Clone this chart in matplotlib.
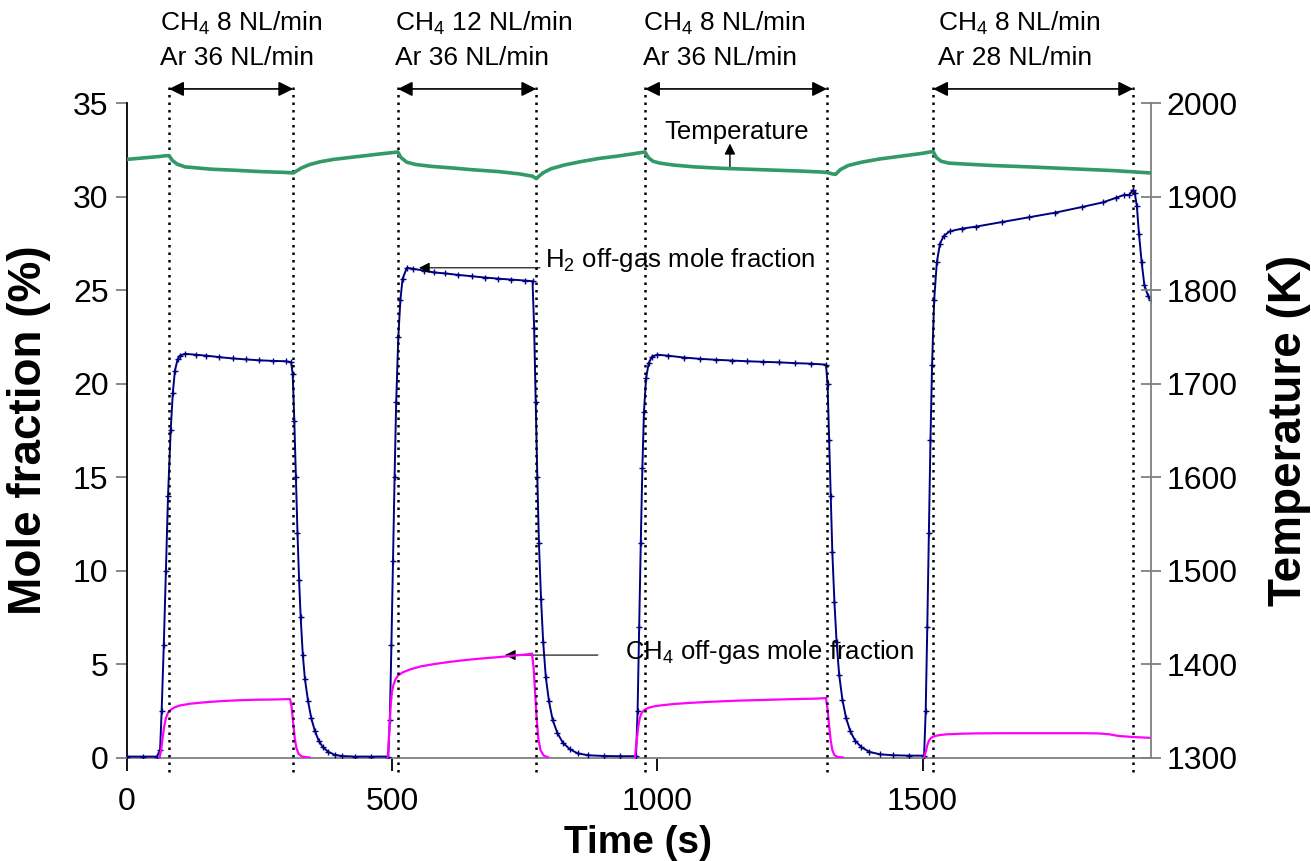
import matplotlib
matplotlib.use("Agg")
import matplotlib.pyplot as plt

plt.rcParams['font.family'] = ['Liberation Sans', 'DejaVu Sans']
plt.rcParams['mathtext.default'] = 'regular'

# ---------------- data ----------------
h2_t = [0, 30, 57, 63, 66, 70, 74, 78, 83, 87, 91, 96, 100, 110, 130, 150, 175, 200, 225, 250, 275, 300, 310,
        313, 316, 319, 322, 325, 328, 332, 336, 342, 348, 355, 362, 370, 380, 392, 405, 430, 460, 493,
        496, 499, 502, 505, 508, 512, 516, 520, 528, 540, 560, 580, 600, 625, 650, 675, 700, 725, 750, 765,
        768, 771, 774, 777, 781, 785, 790, 796, 803, 812, 822, 835, 850, 870, 900, 930, 960,
        963, 966, 969, 972, 975, 979, 984, 990, 1000, 1020, 1050, 1080, 1110, 1140, 1170, 1200, 1230, 1260, 1290, 1318,
        1321, 1324, 1327, 1330, 1334, 1338, 1343, 1349, 1356, 1364, 1373, 1385, 1400, 1420, 1445, 1475, 1503,
        1506, 1509, 1512, 1515, 1518, 1522, 1527, 1533, 1540, 1551, 1575, 1600, 1650, 1700, 1750, 1800, 1840, 1865,
        1880, 1890, 1896, 1900, 1904, 1908, 1913, 1918, 1925, 1930]
h2_v = [0.05, 0.05, 0.05, 0.4, 2.5, 6.0, 10.0, 14.0, 17.5, 19.5, 20.7, 21.3, 21.5, 21.6, 21.55, 21.5, 21.42, 21.35, 21.3, 21.25, 21.22, 21.2, 21.15,
        20.5, 18.0, 15.0, 12.0, 9.5, 7.5, 5.5, 4.2, 3.0, 2.1, 1.4, 0.9, 0.55, 0.3, 0.15, 0.08, 0.05, 0.05, 0.05,
        2.0, 6.0, 10.5, 15.0, 19.0, 22.5, 24.5, 25.6, 26.2, 26.15, 26.05, 25.95, 25.9, 25.82, 25.75, 25.68, 25.62, 25.57, 25.52, 25.48,
        23.0, 19.0, 15.0, 11.5, 8.5, 6.2, 4.3, 3.0, 2.0, 1.3, 0.8, 0.45, 0.22, 0.12, 0.08, 0.07, 0.07,
        2.5, 7.0, 11.5, 15.5, 18.5, 20.3, 21.1, 21.45, 21.55, 21.5, 21.4, 21.33, 21.28, 21.24, 21.2, 21.17, 21.14, 21.1, 21.07, 21.02,
        20.0, 17.0, 14.0, 11.0, 8.3, 6.2, 4.4, 3.1, 2.1, 1.4, 0.9, 0.55, 0.3, 0.17, 0.12, 0.1, 0.1,
        2.5, 7.0, 12.0, 17.0, 21.0, 24.5, 26.5, 27.5, 27.9, 28.15, 28.3, 28.4, 28.65, 28.9, 29.15, 29.45, 29.7, 29.95,
        30.1, 30.1, 30.35, 30.2, 29.5, 28.0, 26.5, 25.3, 24.7, 24.5]

ch4_t = [[62, 65, 68, 71, 74, 78, 83, 90, 100, 120, 150, 180, 210, 240, 270, 300, 308,
          311, 314, 317, 320, 324, 330, 338, 345],
         [492, 494, 496, 498, 500, 503, 507, 512, 520, 535, 555, 580, 610, 640, 670, 700, 730, 755, 764,
          767, 770, 773, 776, 780, 786, 795],
         [958, 961, 964, 967, 970, 974, 979, 986, 995, 1010, 1030, 1060, 1100, 1150, 1200, 1250, 1300, 1318,
          1321, 1324, 1327, 1330, 1334, 1340, 1350],
         [1503, 1506, 1509, 1512, 1516, 1521, 1530, 1545, 1570, 1600, 1650, 1700, 1750, 1800, 1830, 1850, 1870, 1895, 1930]]
ch4_v = [[0.0, 0.4, 1.1, 1.7, 2.1, 2.4, 2.55, 2.68, 2.78, 2.88, 2.96, 3.02, 3.06, 3.09, 3.1, 3.12, 3.13,
          2.7, 1.8, 1.0, 0.5, 0.2, 0.06, 0.02, 0.0],
         [0.0, 0.9, 2.0, 2.9, 3.5, 3.9, 4.2, 4.4, 4.55, 4.72, 4.88, 5.0, 5.12, 5.22, 5.3, 5.37, 5.45, 5.52, 5.56,
          4.8, 3.4, 2.0, 1.0, 0.4, 0.1, 0.0],
         [0.0, 0.8, 1.6, 2.1, 2.35, 2.5, 2.6, 2.68, 2.74, 2.8, 2.86, 2.92, 2.98, 3.04, 3.08, 3.12, 3.15, 3.18,
          2.6, 1.7, 0.9, 0.4, 0.12, 0.03, 0.0],
         [0.0, 0.3, 0.65, 0.9, 1.05, 1.13, 1.19, 1.24, 1.27, 1.29, 1.3, 1.3, 1.3, 1.3, 1.29, 1.25, 1.15, 1.1, 1.05]]

temp_t = [0, 20, 40, 60, 75, 80, 86, 95, 110, 130, 160, 200, 250, 300, 314, 320, 330, 345, 365, 390, 420, 450, 480, 505, 511,
          517, 528, 545, 575, 610, 650, 700, 740, 765, 772, 778, 786, 800, 825, 855, 890, 925, 955, 972, 977,
          983, 992, 1005, 1030, 1070, 1120, 1170, 1220, 1270, 1310, 1320, 1330, 1336, 1345, 1360, 1385, 1420, 1460, 1500, 1520,
          1526, 1535, 1550, 1580, 1630, 1700, 1780, 1860, 1930]
temp_v = [1940, 1941, 1942, 1943, 1944, 1944, 1939, 1935, 1932, 1931, 1929.5, 1928.5, 1927, 1926, 1925.5, 1927.5, 1931, 1934.5, 1937.5, 1940, 1942, 1944, 1946, 1947.5, 1948,
          1942, 1937, 1934.5, 1932.5, 1931, 1929, 1927, 1924.5, 1922, 1919.5, 1922.5, 1926, 1930, 1934, 1937.5, 1941, 1943.5, 1946, 1947.5, 1948,
          1942, 1938, 1936, 1934, 1932, 1930.5, 1929.5, 1928.5, 1927.5, 1926.5, 1926, 1924.5, 1924, 1929, 1933.5, 1937, 1940.5, 1943.5, 1946.5, 1948.5,
          1942, 1938, 1936, 1935, 1933.5, 1932, 1930, 1928, 1925.5]

# switching times (dotted lines) and flow labels
switch_t = [80, 314, 511, 772, 977, 1320, 1520, 1897]
period_pairs = [(80, 314), (511, 772), (977, 1320), (1520, 1897)]
period_labels = [("CH$_4$ 8 NL/min", "Ar 36 NL/min"),
                 ("CH$_4$ 12 NL/min", "Ar 36 NL/min"),
                 ("CH$_4$ 8 NL/min", "Ar 36 NL/min"),
                 ("CH$_4$ 8 NL/min", "Ar 28 NL/min")]
label_x = [63, 506, 973, 1529]

x_ticks = [0, 500, 1000, 1500]
y_ticks = [0, 5, 10, 15, 20, 25, 30, 35]
t_ticks = [1300, 1400, 1500, 1600, 1700, 1800, 1900, 2000]

# ---------------- figure ----------------
fig = plt.figure(figsize=(13.11, 8.61), dpi=100)
ax = fig.add_axes([0.0966, 0.1202, 0.7811, 0.7598])
ax2 = ax.twinx()

ax.set_xlim(0, 1930)
ax.set_ylim(0, 35)
ax2.set_ylim(1300, 2000)

ax.plot(h2_t, h2_v, color='#000080', lw=1.4, marker='+', ms=4, mew=1.0, zorder=3)
for tt, vv in zip(ch4_t, ch4_v):
    ax.plot(tt, vv, color='#FF00FF', lw=1.6, zorder=4)
ax2.plot(temp_t, temp_v, color='#339966', lw=2.6, zorder=3)

# dotted switching lines (extend outside axes)
for s in switch_t:
    ax.plot([s, s], [-0.8, 36.0], color='black', lw=1.8, ls=(0, (1, 2.0)),
            clip_on=False, zorder=5)

for (a, b), (l1, l2), lx in zip(period_pairs, period_labels, label_x):
    ax.annotate('', xy=(b, 35.77), xytext=(a, 35.77),
                arrowprops=dict(arrowstyle='<|-|>', color='black', lw=1.2,
                                mutation_scale=22, shrinkA=0, shrinkB=0),
                annotation_clip=False)
    ax.text(lx, 39.25, l1, fontsize=19, ha='left', va='center', clip_on=False)
    ax.text(lx, 37.45, l2, fontsize=19, ha='left', va='center', clip_on=False)

# annotations
ax.text(1150, 33.46, "Temperature", fontsize=18.5, ha='center', va='center')
ax.annotate('', xy=(1137, 32.85), xytext=(1137, 31.45),
            arrowprops=dict(arrowstyle='-|>', color='black', lw=1.0,
                            mutation_scale=16, shrinkA=0, shrinkB=0))
ax.text(789, 26.6, "H$_2$ off-gas mole fraction", fontsize=18.5, ha='left', va='center')
ax.annotate('', xy=(551, 26.2), xytext=(779, 26.2),
            arrowprops=dict(arrowstyle='-|>', color='black', lw=0.8,
                            mutation_scale=16, shrinkA=0, shrinkB=0))
ax.text(939, 5.64, "CH$_4$ off-gas mole fraction", fontsize=18.5, ha='left', va='center')
ax.annotate('', xy=(713, 5.48), xytext=(888, 5.48),
            arrowprops=dict(arrowstyle='-|>', color='black', lw=0.8,
                            mutation_scale=16, shrinkA=0, shrinkB=0))

# axes styling
ax.set_xticks(x_ticks)
ax.set_yticks(y_ticks)
ax2.set_yticks(t_ticks)
for a in (ax, ax2):
    a.spines['top'].set_visible(False)
ax.spines['right'].set_visible(False)
ax2.spines['left'].set_visible(False)
ax2.spines['bottom'].set_visible(False)
ax.spines['left'].set_color('black')
ax.spines['bottom'].set_color('#808080')
ax2.spines['right'].set_color('#808080')
for sp in ('left', 'bottom'):
    ax.spines[sp].set_linewidth(1.3)
ax2.spines['right'].set_linewidth(1.3)

ax.tick_params(axis='x', direction='out', length=9, width=1.3, labelsize=23, pad=12, color='black')
ax.tick_params(axis='y', direction='out', length=8, width=1.3, labelsize=23, pad=5, color='#808080')
ax2.tick_params(axis='y', direction='inout', length=15, width=1.3, labelsize=23, pad=4, color='#808080')

fig.text(0.487, 0.021, "Time (s)", fontsize=28, fontweight='bold', ha='center', va='center')
fig.text(0.022, 0.50, "Mole fraction (%)", fontsize=33, fontweight='bold', rotation=90,
         ha='center', va='center')
fig.text(0.983, 0.50, "Temperature (K)", fontsize=33, fontweight='bold', rotation=90,
         ha='center', va='center')

fig.savefig('out.png', dpi=100)
